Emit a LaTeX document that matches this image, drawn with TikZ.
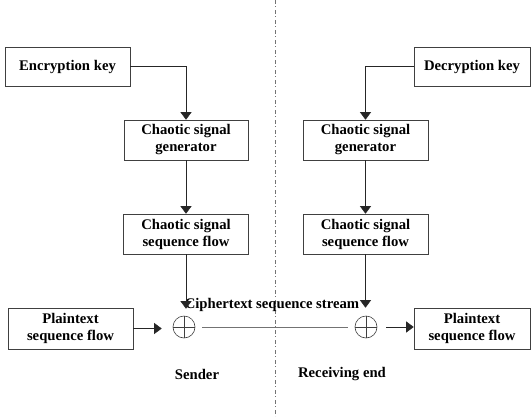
\documentclass[tikz,border=0pt]{standalone}
\usepackage{fontspec}
\setmainfont{Liberation Serif}
\usetikzlibrary{arrows.meta}
\begin{document}
\begin{tikzpicture}[x=1pt,y=-1pt,
  every node/.style={font=\fontsize{14.7pt}{17pt}\selectfont\bfseries, text=black},
  box/.style={draw=black!75, line width=0.6pt, align=center, inner sep=0pt},
  xorn/.style={draw=black!75, line width=0.6pt, circle, minimum size=22pt, inner sep=0pt,
    path picture={\draw[black!75, line width=0.5pt]
      (path picture bounding box.north) -- (path picture bounding box.south)
      (path picture bounding box.west) -- (path picture bounding box.east);}},
  conn/.style={draw=black!85, line width=0.6pt},
  arr/.style={conn, -{Triangle[width=11pt,length=7.5pt]}},
  divider/.style={draw=black!55, line width=0.8pt, dash pattern=on 4pt off 2pt on 1pt off 3pt}
]
\useasboundingbox (0,0) rectangle (531,416);
\coordinate (dtop) at (275,0);
\coordinate (dbot) at (275,416);
\draw[divider] (dtop) -- (dbot);

\node[box, minimum width=125pt, minimum height=39pt] (enc) at (67.5,66.5) {Encryption key};
\node[box, minimum width=124pt, minimum height=40pt] (gen1) at (186,140) {Chaotic signal\\generator};
\node[box, minimum width=125pt, minimum height=40pt] (seq1) at (186,234) {Chaotic signal\\sequence flow};
\node[box, minimum width=125pt, minimum height=41pt] (pt1) at (70.5,328.5) {Plaintext\\sequence flow};
\node[xorn] (x1) at (184,327) {};

\node[box, minimum width=116pt, minimum height=39pt] (dec) at (472,66.5) {Decryption key};
\node[box, minimum width=125pt, minimum height=40pt] (gen2) at (365.5,140) {Chaotic signal\\generator};
\node[box, minimum width=125pt, minimum height=40pt] (seq2) at (365.5,234) {Chaotic signal\\sequence flow};
\node[box, minimum width=116pt, minimum height=41pt] (pt2) at (472,328.5) {Plaintext\\sequence flow};
\node[xorn] (x2) at (366,327) {};

\node (ct) at (272,305) {Ciphertext sequence stream};
\node (snd) at (197,374) {Sender};
\node (rcv) at (342,374) {Receiving end};

\draw[arr] (enc.east) -| (gen1.north);
\draw[arr] (gen1.south) -- (seq1.north);
\draw[arr, shorten >=7pt] (seq1.south) -- (seq1.south |- x1.north);
\draw[arr, shorten >=11pt] (pt1.east) -- (pt1.east -| x1.west);

\draw[arr] (dec.west) -| (gen2.north);
\draw[arr] (gen2.south) -- (seq2.north);
\draw[arr, shorten >=8pt] (seq2.south) -- (seq2.south |- x2.north);
\draw[arr, shorten <=9pt] (x2.east) -- (x2.east -| pt2.west);

\draw[draw=black!55, line width=0.6pt, shorten <=7pt, shorten >=7pt] (x1.east) -- (x2.west);
\end{tikzpicture}
\end{document}
